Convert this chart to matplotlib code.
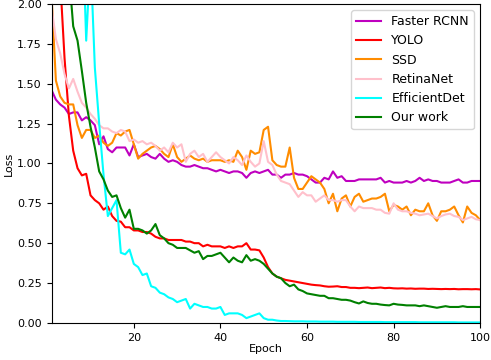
import matplotlib
matplotlib.use("Agg")
import matplotlib.pyplot as plt
import numpy as np

epochs = list(range(1, 101))

faster_rcnn = [1.46, 1.40, 1.37, 1.35, 1.31, 1.32, 1.32, 1.27, 1.29, 1.27,
               1.24, 1.12, 1.17, 1.09, 1.07, 1.10, 1.10, 1.10, 1.05, 1.12,
               1.04, 1.05, 1.06, 1.04, 1.03, 1.06, 1.03, 1.01, 1.02, 1.01,
               0.99, 0.98, 0.98, 0.99, 0.98, 0.97, 0.97, 0.96, 0.95, 0.96,
               0.95, 0.94, 0.95, 0.95, 0.94, 0.91, 0.94, 0.95, 0.94, 0.95,
               0.96, 0.93, 0.93, 0.91, 0.93, 0.93, 0.94, 0.93, 0.93, 0.92,
               0.90, 0.88, 0.88, 0.91, 0.90, 0.95, 0.91, 0.92, 0.89, 0.89,
               0.89, 0.90, 0.90, 0.90, 0.90, 0.90, 0.91, 0.88, 0.89, 0.88,
               0.88, 0.88, 0.89, 0.88, 0.89, 0.91, 0.89, 0.90, 0.89, 0.89,
               0.88, 0.88, 0.88, 0.89, 0.90, 0.88, 0.88, 0.89, 0.89, 0.89]

yolo = [2.80, 2.50, 2.15, 1.66, 1.30, 1.08, 0.97, 0.925, 0.935, 0.80,
        0.77, 0.75, 0.71, 0.73, 0.67, 0.64, 0.635, 0.60, 0.60, 0.58,
        0.58, 0.57, 0.57, 0.56, 0.54, 0.53, 0.53, 0.52, 0.52, 0.52,
        0.52, 0.51, 0.51, 0.50, 0.50, 0.48, 0.49, 0.48, 0.48, 0.48,
        0.47, 0.48, 0.47, 0.48, 0.48, 0.50, 0.46, 0.46, 0.455, 0.41,
        0.35, 0.31, 0.29, 0.28, 0.27, 0.265, 0.26, 0.255, 0.25, 0.245,
        0.24, 0.237, 0.235, 0.23, 0.227, 0.228, 0.23, 0.225, 0.225, 0.22,
        0.22, 0.218, 0.22, 0.222, 0.218, 0.22, 0.222, 0.218, 0.22, 0.217,
        0.216, 0.217, 0.215, 0.216, 0.214, 0.215, 0.215, 0.213, 0.214, 0.213,
        0.212, 0.213, 0.212, 0.213, 0.211, 0.212, 0.212, 0.211, 0.212, 0.21]

ssd = [2.05, 1.52, 1.42, 1.38, 1.37, 1.37, 1.24, 1.16, 1.21, 1.21,
       1.16, 1.175, 1.13, 1.11, 1.13, 1.19, 1.175, 1.20, 1.21, 1.12,
       1.03, 1.06, 1.08, 1.10, 1.11, 1.09, 1.06, 1.04, 1.12, 1.04,
       1.01, 1.03, 1.05, 1.03, 1.02, 1.03, 1.01, 1.02, 1.02, 1.02,
       1.01, 1.02, 1.01, 1.08, 1.04, 0.96, 1.08, 1.06, 1.07, 1.21,
       1.23, 1.02, 0.99, 0.98, 0.98, 1.10, 0.91, 0.84, 0.84, 0.88,
       0.92, 0.90, 0.88, 0.84, 0.75, 0.81, 0.70, 0.78, 0.80, 0.73,
       0.79, 0.81, 0.76, 0.77, 0.78, 0.78, 0.79, 0.81, 0.70, 0.74,
       0.73, 0.71, 0.73, 0.675, 0.71, 0.70, 0.70, 0.75, 0.675, 0.64,
       0.70, 0.70, 0.71, 0.73, 0.675, 0.63, 0.73, 0.69, 0.675, 0.645]

retinanet = [1.98, 1.78, 1.69, 1.56, 1.47, 1.53, 1.45, 1.38, 1.35, 1.31,
             1.28, 1.24, 1.22, 1.22, 1.20, 1.19, 1.21, 1.20, 1.14, 1.15,
             1.13, 1.14, 1.12, 1.13, 1.11, 1.08, 1.10, 1.07, 1.13, 1.10,
             1.12, 1.01, 1.06, 1.08, 1.04, 1.06, 1.01, 1.04, 1.07, 1.04,
             1.02, 1.00, 1.04, 1.02, 0.99, 1.05, 1.01, 0.98, 1.00, 1.14,
             1.01, 0.99, 0.93, 0.89, 0.88, 0.87, 0.83, 0.79, 0.82, 0.80,
             0.80, 0.76, 0.78, 0.80, 0.77, 0.77, 0.76, 0.77, 0.77, 0.73,
             0.70, 0.73, 0.72, 0.72, 0.72, 0.71, 0.71, 0.69, 0.685, 0.75,
             0.71, 0.70, 0.70, 0.69, 0.685, 0.675, 0.68, 0.685, 0.67, 0.655,
             0.67, 0.68, 0.685, 0.67, 0.665, 0.645, 0.655, 0.665, 0.65, 0.645]

efficientdet = [5.2, 4.8, 4.3, 3.9, 3.5, 3.2, 2.9, 2.6, 1.77, 2.3,
                1.60, 1.25, 0.93, 0.67, 0.72, 0.77, 0.44, 0.43, 0.46, 0.37,
                0.35, 0.30, 0.31, 0.23, 0.22, 0.19, 0.18, 0.16, 0.15, 0.13,
                0.14, 0.15, 0.09, 0.12, 0.11, 0.10, 0.10, 0.09, 0.09, 0.10,
                0.05, 0.06, 0.06, 0.06, 0.05, 0.03, 0.04, 0.05, 0.06, 0.03,
                0.02, 0.02, 0.015, 0.012, 0.012, 0.011, 0.010, 0.010, 0.010, 0.009,
                0.009, 0.009, 0.008, 0.008, 0.008, 0.008, 0.007, 0.007, 0.007, 0.007,
                0.007, 0.006, 0.006, 0.006, 0.006, 0.006, 0.006, 0.005, 0.005, 0.005,
                0.005, 0.005, 0.005, 0.005, 0.005, 0.004, 0.004, 0.004, 0.004, 0.004,
                0.004, 0.004, 0.004, 0.004, 0.003, 0.003, 0.003, 0.003, 0.003, 0.003]

our_work = [3.1, 2.8, 2.55, 2.3, 2.2, 1.86, 1.77, 1.58, 1.38, 1.23,
            1.10, 0.95, 0.90, 0.83, 0.79, 0.80, 0.72, 0.66, 0.71, 0.59,
            0.59, 0.58, 0.56, 0.58, 0.62, 0.55, 0.53, 0.50, 0.49, 0.47,
            0.47, 0.47, 0.455, 0.44, 0.45, 0.40, 0.42, 0.42, 0.43, 0.44,
            0.41, 0.38, 0.41, 0.39, 0.38, 0.425, 0.39, 0.40, 0.39, 0.37,
            0.34, 0.31, 0.29, 0.28, 0.25, 0.23, 0.24, 0.21, 0.20, 0.185,
            0.18, 0.175, 0.17, 0.17, 0.155, 0.155, 0.15, 0.145, 0.145, 0.14,
            0.13, 0.122, 0.135, 0.125, 0.12, 0.12, 0.115, 0.112, 0.11, 0.12,
            0.115, 0.113, 0.11, 0.11, 0.11, 0.105, 0.11, 0.105, 0.10, 0.095,
            0.10, 0.105, 0.10, 0.10, 0.10, 0.105, 0.10, 0.10, 0.10, 0.10]

series = [
    ("Faster RCNN", faster_rcnn, "m"),
    ("YOLO", yolo, "red"),
    ("SSD", ssd, "darkorange"),
    ("RetinaNet", retinanet, "pink"),
    ("EfficientDet", efficientdet, "cyan"),
    ("Our work", our_work, "green"),
]

fig = plt.figure(figsize=(4.91, 3.6), dpi=100)
ax = fig.add_axes([0.105, 0.103, 0.873, 0.886])
for name, vals, col in series:
    ax.plot(epochs, vals, color=col, linewidth=1.5, label=name)

ax.set_xlim(1, 100)
ax.set_ylim(0, 2.0)
ax.set_xticks([20, 40, 60, 80, 100])
ax.set_yticks(np.arange(0, 2.01, 0.25))
ax.yaxis.set_major_formatter(matplotlib.ticker.FormatStrFormatter('%.2f'))
ax.tick_params(labelsize=8)
ax.set_xlabel("Epoch", fontsize=8, labelpad=1)
ax.set_ylabel("Loss", fontsize=8, labelpad=2)
ax.legend(loc="upper right", fontsize=9)

fig.savefig("out.png", dpi=100)
